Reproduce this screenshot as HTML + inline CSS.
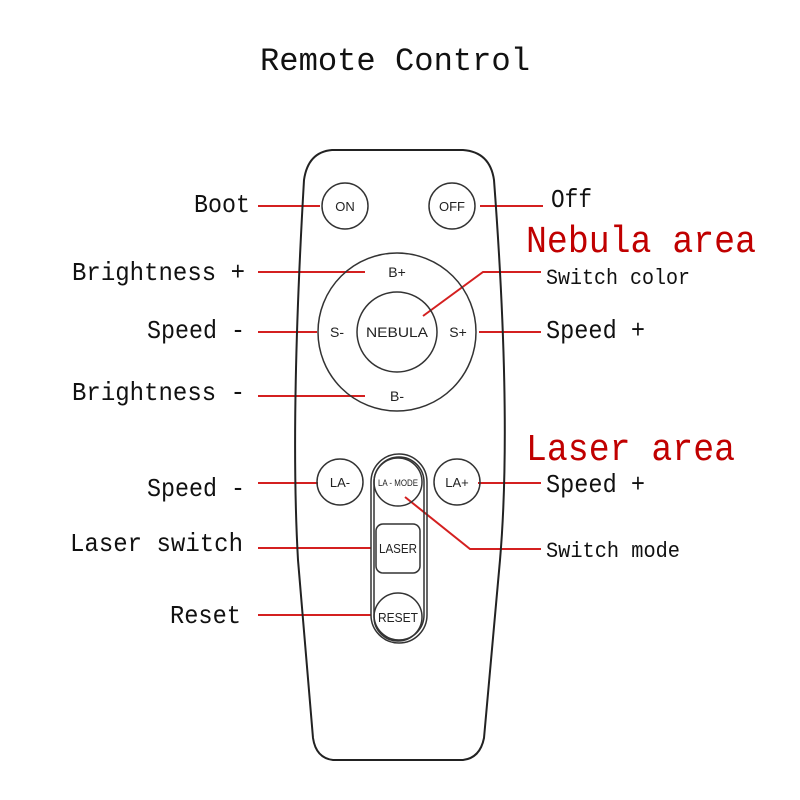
<!DOCTYPE html>
<html><head><meta charset="utf-8"><style>html,body{margin:0;padding:0;background:#fff}svg{display:block}</style></head>
<body>
<svg width="800" height="800" viewBox="0 0 800 800" xmlns="http://www.w3.org/2000/svg">
<rect width="800" height="800" fill="#fff"/>
<g font-family="'Liberation Mono','WenQuanYi Zen Hei',monospace" fill="#111">
<text x="260" y="70" font-size="32" textLength="270" lengthAdjust="spacingAndGlyphs">Remote Control</text>
<text x="194" y="212" font-size="26" textLength="56" lengthAdjust="spacingAndGlyphs">Boot</text>
<text x="551" y="207" font-size="26" textLength="41" lengthAdjust="spacingAndGlyphs">Off</text>
<text x="526" y="252" font-size="38" fill="#c00000" textLength="230" lengthAdjust="spacingAndGlyphs">Nebula area</text>
<text x="72" y="280" font-size="26" textLength="173" lengthAdjust="spacingAndGlyphs">Brightness +</text>
<text x="546" y="284" font-size="22" textLength="144" lengthAdjust="spacingAndGlyphs">Switch color</text>
<text x="147" y="338" font-size="26" textLength="98" lengthAdjust="spacingAndGlyphs">Speed -</text>
<text x="546" y="338" font-size="26" textLength="99" lengthAdjust="spacingAndGlyphs">Speed +</text>
<text x="72" y="400" font-size="26" textLength="173" lengthAdjust="spacingAndGlyphs">Brightness -</text>
<text x="526" y="460" font-size="38" fill="#c00000" textLength="209" lengthAdjust="spacingAndGlyphs">Laser area</text>
<text x="147" y="496" font-size="26" textLength="98" lengthAdjust="spacingAndGlyphs">Speed -</text>
<text x="546" y="492" font-size="26" textLength="99" lengthAdjust="spacingAndGlyphs">Speed +</text>
<text x="70" y="551" font-size="26" textLength="173" lengthAdjust="spacingAndGlyphs">Laser switch</text>
<text x="546" y="557" font-size="22" textLength="134" lengthAdjust="spacingAndGlyphs">Switch mode</text>
<text x="170" y="623" font-size="26" textLength="71" lengthAdjust="spacingAndGlyphs">Reset</text>
</g>
<g fill="none" stroke="#d42020" stroke-width="2">
<line x1="258" y1="206" x2="320" y2="206"/>
<line x1="480" y1="206" x2="543" y2="206"/>
<line x1="258" y1="272" x2="365" y2="272"/>
<polyline points="423,316 483,272 541,272"/>
<line x1="258" y1="332" x2="317" y2="332"/>
<line x1="479" y1="332" x2="541" y2="332"/>
<line x1="258" y1="396" x2="365" y2="396"/>
<line x1="258" y1="483" x2="318" y2="483"/>
<line x1="478" y1="483" x2="541" y2="483"/>
<line x1="258" y1="548" x2="371" y2="548"/>
<polyline points="405,497 470,549 541,549"/>
<line x1="258" y1="615" x2="371" y2="615"/>
</g>
<g fill="none" stroke="#222" stroke-width="2">
<path d="M332,150 L463,150 Q490,152 494,180 Q512,420 500,560 L484,738 Q480,758 463,760 L333,760 Q316,758 313,738 L298,560 Q290,420 304,180 Q308,152 332,150 Z"/>
</g>
<g fill="none" stroke="#333" stroke-width="1.5">
<circle cx="345" cy="206" r="23"/>
<circle cx="452" cy="206" r="23"/>
<circle cx="397" cy="332" r="79"/>
<circle cx="397" cy="332" r="40"/>
<circle cx="340" cy="482" r="23"/>
<circle cx="457" cy="482" r="23"/>
<rect x="371" y="454" width="56" height="189" rx="28"/>
<rect x="374" y="457" width="50" height="183" rx="25"/>
<circle cx="398" cy="482" r="24"/>
<rect x="376" y="524" width="44" height="49" rx="7"/>
<circle cx="398" cy="617" r="24"/>
</g>
<g font-family="'Liberation Sans',Arial,sans-serif" fill="#222" text-anchor="middle">
<text x="345" y="211" font-size="13">ON</text>
<text x="452" y="211" font-size="13">OFF</text>
<text x="397" y="277" font-size="14">B+</text>
<text x="337" y="337" font-size="14">S-</text>
<text x="458" y="337" font-size="14">S+</text>
<text x="397" y="401" font-size="14">B-</text>
<text x="397" y="337" font-size="14" textLength="62" lengthAdjust="spacingAndGlyphs">NEBULA</text>
<text x="340" y="487" font-size="13">LA-</text>
<text x="457" y="487" font-size="13">LA+</text>
<text x="398" y="486" font-size="9" textLength="40" lengthAdjust="spacingAndGlyphs">LA - MODE</text>
<text x="398" y="553" font-size="13" textLength="38" lengthAdjust="spacingAndGlyphs">LASER</text>
<text x="398" y="622" font-size="13" textLength="40" lengthAdjust="spacingAndGlyphs">RESET</text>
</g>
</svg>
</body></html>
